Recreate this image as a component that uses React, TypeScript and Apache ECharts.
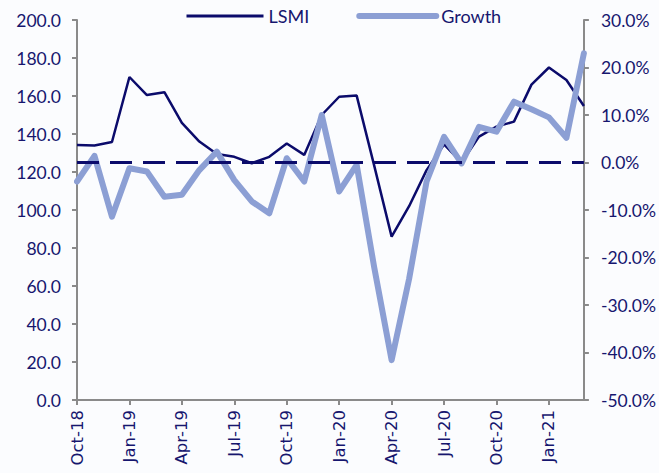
import React, { useEffect, useRef } from "react";
import * as echarts from "echarts";

const categories = [
  "Oct-18", "Nov-18", "Dec-18", "Jan-19", "Feb-19", "Mar-19", "Apr-19", "May-19", "Jun-19", "Jul-19",
  "Aug-19", "Sep-19", "Oct-19", "Nov-19", "Dec-19", "Jan-20", "Feb-20", "Mar-20", "Apr-20", "May-20",
  "Jun-20", "Jul-20", "Aug-20", "Sep-20", "Oct-20", "Nov-20", "Dec-20", "Jan-21", "Feb-21", "Mar-21",
];

const lsmi = [
  134.2, 134.0, 135.8, 170.0, 160.5, 162.0, 145.8, 136.0, 129.5, 128.0,
  124.6, 128.0, 135.0, 129.0, 150.0, 159.6, 160.2, 123.5, 86.0, 102.0,
  121.0, 134.5, 125.0, 138.6, 143.9, 146.5, 166.0, 175.0, 168.4, 154.7,
];

const growth = [
  -4.0, 1.4, -11.4, -1.2, -1.9, -7.2, -6.8, -1.6, 2.3, -3.7,
  -8.2, -10.7, 0.9, -4.0, 10.0, -6.1, -0.5, -22.0, -41.6, -24.5,
  -4.0, 5.4, -0.2, 7.5, 6.5, 12.8, 11.2, 9.5, 5.2, 23.0,
];

const NAVY = "#0b0b6b";
const LIGHT = "#8c9fd4";
const AXIS = "#8a8a8a";
const TEXT = "#16166e";

export default function App() {
  const ref = useRef<HTMLDivElement>(null);
  useEffect(() => {
    if (!ref.current) return;
    const chart = echarts.init(ref.current, undefined, { renderer: "svg" });
    chart.setOption({
      animation: false,
      backgroundColor: "#fbfcfe",
      legend: {
        data: [
          { name: "LSMI", lineStyle: { width: 3, color: NAVY } },
          { name: "Growth", lineStyle: { width: 6, color: LIGHT, cap: "round" } },
        ],
        top: 2,
        left: 180,
        itemWidth: 77,
        itemHeight: 12,
        itemGap: 47,
        itemStyle: { opacity: 0 },
        textStyle: { fontFamily: "Lato", fontSize: 18, color: TEXT },
      },
      grid: { left: 77, right: 75, top: 20, bottom: 73, containLabel: false },
      xAxis: {
        type: "category",
        data: categories,
        boundaryGap: false,
        axisLine: { lineStyle: { color: AXIS, width: 2 } },
        axisTick: { show: true, interval: 2, length: 5, lineStyle: { color: AXIS, width: 2 } },
        axisLabel: {
          interval: 2,
          rotate: 90,
          margin: 10,
          color: TEXT,
          fontFamily: "DejaVu Sans",
          fontSize: 16.5,
        },
        splitLine: { show: false },
      },
      yAxis: [
        {
          type: "value",
          min: 0,
          max: 200,
          interval: 20,
          position: "left",
          axisLine: { show: true, lineStyle: { color: AXIS, width: 2 } },
          axisTick: { show: true, length: 5, lineStyle: { color: AXIS, width: 2 } },
          axisLabel: {
            formatter: (v: number) => v.toFixed(1),
            margin: 16,
            color: TEXT,
            fontFamily: "Lato",
            fontSize: 17.5,
          },
          splitLine: { show: false },
        },
        {
          type: "value",
          min: -50,
          max: 30,
          interval: 10,
          position: "right",
          axisLine: { show: true, lineStyle: { color: AXIS, width: 2 } },
          axisTick: { show: true, length: 5, lineStyle: { color: AXIS, width: 2 } },
          axisLabel: {
            formatter: (v: number) => v.toFixed(1) + "%",
            margin: 17,
            color: TEXT,
            fontFamily: "Lato",
            fontSize: 17.5,
          },
          splitLine: { show: false },
        },
      ],
      series: [
        {
          name: "LSMI",
          type: "line",
          yAxisIndex: 0,
          data: lsmi,
          symbol: "none",
          showSymbol: false,
          lineStyle: { color: NAVY, width: 2.5 },
          itemStyle: { color: NAVY },
          z: 2,
        },
        {
          name: "zero",
          type: "line",
          yAxisIndex: 1,
          data: [],
          symbol: "none",
          z: 3,
          markLine: {
            silent: true,
            symbol: ["none", "none"],
            label: { show: false },
            lineStyle: { color: NAVY, width: 3, type: [22, 11] },
            data: [{ yAxis: 0 }],
          },
        },
        {
          name: "Growth",
          type: "line",
          yAxisIndex: 1,
          data: growth,
          symbol: "none",
          showSymbol: false,
          lineStyle: { color: LIGHT, width: 6, cap: "round", join: "round" },
          itemStyle: { color: LIGHT },
          z: 4,
        },
      ],
    });
    return () => chart.dispose();
  }, []);
  return <div ref={ref} style={{ width: 659, height: 473, position: "absolute", left: 0, top: 0 }} />;
}
